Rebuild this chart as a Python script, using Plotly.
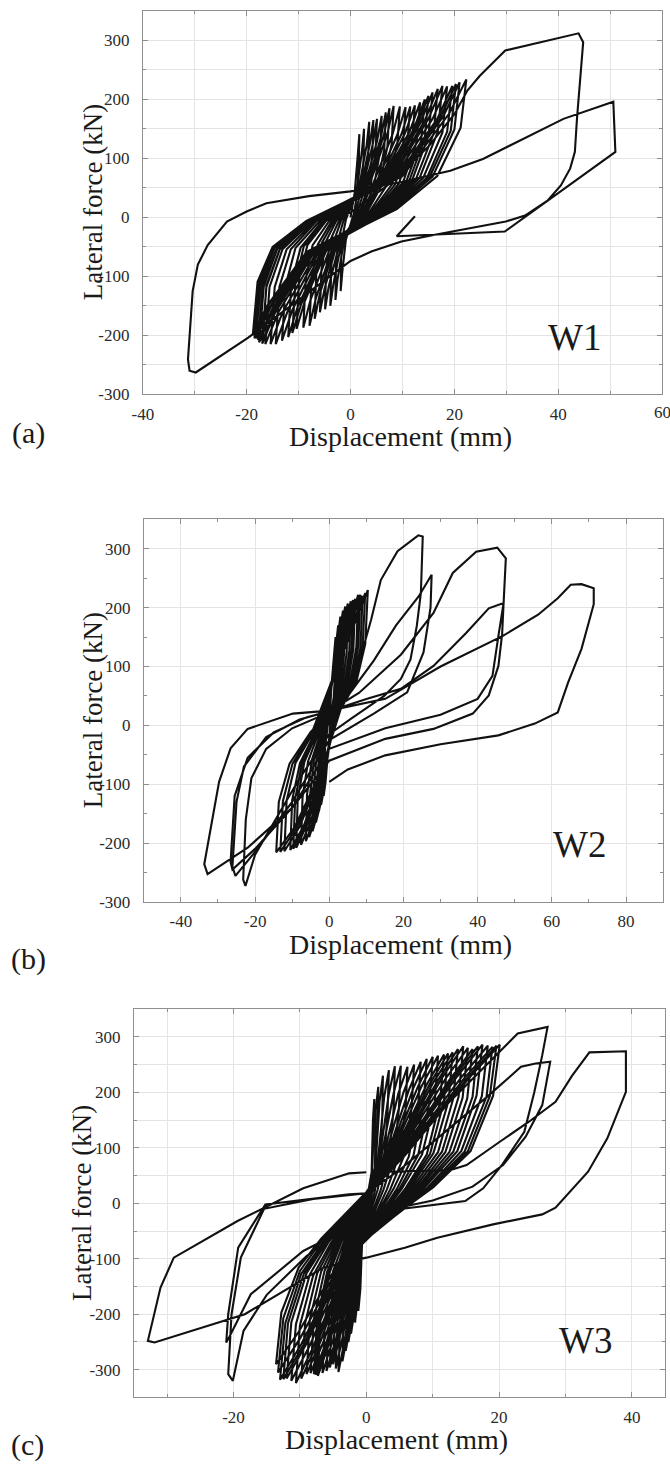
import plotly.graph_objects as go

# ---------------- data: lateral force (kN) vs displacement (mm) ----------------
# Each list is the recorded load path as (displacement, force) pairs.

w1_path = [
    (0, 0),
    (0.8, 42), (1.4, 106), (1.7, 141), (1.6, 92), (1.3, 42), (0.7, 8),
    (-0.9, -38), (-1.6, -94), (-1.9, -125), (-1.8, -69), (-1.5, -31), (-0.9, -4),
    (1.2, 45), (2.2, 113), (2.6, 150), (2.5, 98), (2.0, 45), (1.0, 9),
    (-1.3, -42), (-2.5, -105), (-2.9, -140), (-2.8, -77), (-2.3, -35), (-1.3, -4),
    (1.6, 49), (3.1, 122), (3.6, 162), (3.4, 105), (2.7, 49), (1.4, 10),
    (-1.8, -45), (-3.3, -113), (-3.9, -150), (-3.7, -83), (-3.1, -38), (-1.8, -5),
    (2.0, 50), (3.7, 124), (4.4, 165), (4.2, 107), (3.3, 50), (1.8, 10),
    (-2.2, -47), (-4.2, -117), (-4.9, -156), (-4.7, -86), (-3.9, -39), (-2.2, -5),
    (2.3, 50), (4.3, 125), (5.1, 167), (4.8, 109), (3.8, 50), (2.0, 10),
    (-2.7, -48), (-5.0, -121), (-5.9, -161), (-5.6, -89), (-4.7, -40), (-2.7, -5),
    (2.7, 52), (5.1, 129), (6.0, 172), (5.7, 112), (4.5, 52), (2.4, 10),
    (-3.1, -52), (-5.9, -129), (-6.9, -172), (-6.6, -95), (-5.5, -43), (-3.1, -5),
    (3.1, 53), (5.8, 134), (6.8, 178), (6.5, 116), (5.1, 53), (2.7, 11),
    (-3.6, -55), (-6.7, -138), (-7.9, -184), (-7.5, -101), (-6.3, -46), (-3.6, -6),
    (3.4, 56), (6.4, 139), (7.5, 185), (7.1, 120), (5.6, 56), (3.0, 11),
    (-4.1, -56), (-7.7, -140), (-9.1, -187), (-8.6, -103), (-7.3, -47), (-4.1, -6),
    (3.7, 57), (7.1, 142), (8.3, 189), (7.9, 123), (6.2, 57), (3.3, 11),
    (-4.7, -57), (-8.8, -142), (-10.4, -189), (-9.9, -104), (-8.3, -47), (-4.7, -6),
    (4.3, 56), (8.1, 141), (9.5, 188), (9.0, 122), (7.1, 56), (3.8, 11),
    (-5.0, -59), (-9.5, -147), (-11.2, -196), (-10.6, -108), (-9.0, -49), (-5.0, -6),
    (4.8, 56), (9.0, 140), (10.6, 187), (10.1, 122), (8.0, 56), (4.2, 11),
    (-5.4, -61), (-10.2, -152), (-12.0, -203), (-11.4, -112), (-9.6, -51), (-5.4, -6),
    (5.2, 56), (9.8, 141), (11.5, 188), (10.9, 122), (8.6, 56), (4.6, 11),
    (-5.9, -63), (-11.2, -157), (-13.2, -209), (-12.5, -115), (-10.6, -52), (-5.9, -6),
    (5.6, 57), (10.5, 143), (12.4, 190), (11.8, 124), (9.3, 57), (5.0, 11),
    (-6.5, -65), (-12.2, -161), (-14.4, -215), (-13.7, -118), (-11.5, -54), (-6.5, -6),
    (6.0, 59), (11.4, 146), (13.4, 195), (12.7, 127), (10.1, 59), (5.4, 12),
    (-6.9, -65), (-13.1, -161), (-15.4, -215), (-14.6, -118), (-12.3, -54), (-6.9, -6),
    (6.4, 60), (12.2, 150), (14.3, 200), (13.6, 130), (10.7, 60), (5.7, 12),
    (-7.4, -65), (-13.9, -161), (-16.4, -215), (-15.6, -118), (-13.1, -54), (-7.4, -6),
    (6.8, 62), (12.8, 155), (15.0, 206), (14.3, 134), (11.3, 62), (6.0, 12),
    (-7.7, -64), (-14.5, -161), (-17.0, -214), (-16.2, -118), (-13.6, -54), (-7.7, -6),
    (7.1, 64), (13.4, 159), (15.8, 212), (15.0, 138), (11.9, 64), (6.3, 13),
    (-7.9, -64), (-15.0, -159), (-17.6, -212), (-16.7, -117), (-14.1, -53), (-7.9, -6),
    (7.6, 65), (14.3, 164), (16.8, 218), (16.0, 142), (12.6, 65), (6.7, 13),
    (-8.2, -62), (-15.5, -154), (-18.2, -205), (-17.3, -113), (-14.6, -51), (-8.2, -6),
    (8.0, 67), (15.0, 167), (17.7, 223), (16.8, 145), (13.3, 67), (7.1, 13),
    (-8.5, -59), (-16.0, -149), (-18.8, -198), (-17.9, -109), (-15.0, -50), (-8.5, -6),
    (8.4, 67), (15.8, 167), (18.6, 222), (17.7, 144), (14.0, 67), (7.4, 13),
    (-8.4, -60), (-15.9, -150), (-18.7, -200), (-17.8, -110), (-15.0, -50), (-8.4, -6),
    (8.8, 67), (16.7, 167), (19.6, 223), (18.6, 145), (14.7, 67), (7.8, 13),
    (-8.3, -62), (-15.7, -154), (-18.5, -205), (-17.6, -113), (-14.8, -51), (-8.3, -6),
    (9.1, 68), (17.3, 170), (20.3, 226), (19.3, 147), (15.2, 68), (8.1, 14),
    (-8.0, -62), (-15.1, -156), (-17.8, -208), (-16.9, -114), (-14.2, -52), (-8.0, -6),
    (9.5, 69), (17.9, 172), (21.0, 229), (20.0, 149), (15.8, 69), (8.4, 14),
    (-7.7, -63), (-14.5, -158), (-17.0, -210), (-16.2, -116), (-13.6, -53), (-7.7, -6),
    (10.0, 70), (19.0, 176), (22.3, 234), (21.2, 152), (16.7, 70), (8.9, 14),
    (-8.2, -61), (-15.5, -152), (-18.2, -202), (-17.3, -111), (-14.6, -51), (-8.2, -6),
    (0, 8), (8, 60), (15, 120), (20, 175), (22.5, 215), (24.9, 240), (29.8, 283),
    (43.9, 312), (44.8, 297), (43.6, 167), (43.2, 111), (42.3, 83), (40.5, 54),
    (38, 29), (33.6, 3), (29.9, -7), (22.3, -19), (16, -30), (9.8, -41), (4, -58),
    (0, -74), (-19.7, -204), (-29.8, -263), (-31, -260), (-31.3, -241), (-30.4, -125),
    (-29.4, -80), (-27.5, -47), (-23.8, -7), (-20, 10), (-16.2, 24), (-8, 36), (0, 44),
    (9.8, 60), (19.2, 79), (25.5, 99), (41, 167), (49.4, 192), (50.6, 196), (51, 111),
    (29.7, -24), (8.9, -32), (12.4, 2),
]

w2_path = [
    (0, 0),
    (0.6, 68), (1.4, 128), (1.7, 150), (1.6, 90), (1.2, 48), (0.5, 18),
    (-0.2, -42), (-1.0, -96), (-1.5, -120), (-1.4, -72), (-1.1, -36), (-0.5, -6),
    (0.8, 77), (1.9, 145), (2.4, 170), (2.2, 102), (1.7, 54), (0.7, 20),
    (-0.3, -47), (-1.4, -108), (-2.2, -135), (-2.1, -81), (-1.7, -41), (-0.8, -7),
    (0.9, 83), (2.4, 157), (3.0, 185), (2.8, 111), (2.1, 59), (0.9, 22),
    (-0.4, -51), (-1.8, -117), (-2.8, -146), (-2.7, -88), (-2.1, -44), (-1.0, -7),
    (1.0, 88), (3.0, 166), (3.7, 195), (3.4, 117), (2.6, 62), (1.1, 23),
    (-0.5, -58), (-2.3, -132), (-3.6, -165), (-3.4, -99), (-2.7, -50), (-1.3, -8),
    (1.2, 91), (3.4, 172), (4.3, 202), (4.0, 121), (3.0, 65), (1.3, 24),
    (-0.7, -63), (-2.9, -144), (-4.5, -180), (-4.3, -108), (-3.4, -54), (-1.6, -9),
    (1.3, 93), (4.0, 176), (5.0, 207), (4.7, 124), (3.5, 66), (1.5, 25),
    (-0.8, -67), (-3.5, -152), (-5.4, -190), (-5.1, -114), (-4.1, -57), (-1.9, -10),
    (1.5, 95), (4.6, 179), (5.8, 211), (5.4, 127), (4.1, 68), (1.7, 25),
    (-0.9, -69), (-4.1, -158), (-6.3, -197), (-6.0, -118), (-4.7, -59), (-2.2, -10),
    (1.6, 96), (5.1, 181), (6.4, 213), (6.0, 128), (4.5, 68), (1.9, 26),
    (-1.1, -71), (-4.9, -162), (-7.6, -203), (-7.2, -122), (-5.7, -61), (-2.7, -10),
    (1.7, 97), (5.6, 183), (7.0, 215), (6.5, 129), (4.9, 69), (2.1, 26),
    (-1.3, -73), (-5.8, -166), (-8.9, -208), (-8.5, -125), (-6.7, -62), (-3.1, -10),
    (1.9, 100), (6.2, 189), (7.8, 222), (7.3, 133), (5.5, 71), (2.3, 27),
    (-1.6, -74), (-6.8, -170), (-10.5, -212), (-10.0, -127), (-7.9, -64), (-3.7, -11),
    (2.0, 100), (6.7, 189), (8.4, 222), (7.8, 133), (5.9, 71), (2.5, 27),
    (-1.5, -74), (-6.3, -168), (-9.7, -210), (-9.2, -126), (-7.3, -63), (-3.4, -11),
    (2.1, 99), (7.2, 187), (9.0, 220), (8.4, 132), (6.3, 70), (2.7, 26),
    (-1.8, -75), (-7.9, -171), (-12.1, -214), (-11.5, -128), (-9.1, -64), (-4.2, -11),
    (2.2, 101), (7.8, 191), (9.7, 225), (9.0, 135), (6.8, 72), (2.9, 27),
    (-2.0, -75), (-8.6, -172), (-13.2, -215), (-12.5, -129), (-9.9, -65), (-4.6, -11),
    (2.4, 104), (8.3, 196), (10.4, 230), (9.7, 138), (7.3, 74), (3.1, 28),
    (-2.1, -76), (-9.3, -173), (-14.3, -216), (-13.6, -130), (-10.7, -65), (-5.0, -11),
    (0, 20), (3.4, 45), (7.8, 101), (11.3, 180), (13.9, 247), (18.4, 296), (24, 323),
    (25.2, 321), (24.7, 225), (23.6, 169), (21.9, 112), (19.3, 79), (14.8, 50), (6, 12),
    (0, -15), (-8, -90), (-15, -165), (-20, -220), (-22.6, -273), (-23.2, -262),
    (-22.5, -160), (-21, -90), (-17, -40), (-10, -5), (0, 22),
    (5, 50), (12, 110), (18, 170), (24.1, 219), (27.6, 256), (27.3, 200), (25.4, 124),
    (21, 56), (12, 20), (0, -25), (-10, -130), (-20, -215), (-25.3, -256), (-26.1, -240),
    (-25, -130), (-23, -70), (-17, -20), (-8, 10), (0, 24),
    (8, 55), (19.3, 120), (28.1, 191), (33.3, 259), (39.6, 295), (45.3, 302), (47.6, 284),
    (47, 208), (45.6, 152), (44, 84), (40, 45), (30, 18), (15.1, -5), (0, -40),
    (-10, -140), (-20, -210), (-26.1, -245), (-26.6, -232), (-25.5, -120), (-22, -55),
    (-15, -12), (-6, 14), (0, 24),
    (10, 45), (19.3, 62), (28.1, 101), (36.9, 157), (43, 199), (47, 208), (46.6, 155),
    (45.6, 101), (43, 51), (38.7, 20), (28.1, -6), (15.1, -23), (0, -60),
    (-10, -140), (-22, -208), (-32.8, -253), (-33.7, -236), (-29.7, -96), (-26.6, -39),
    (-22, -6), (-9.8, 20), (0, 25),
    (15.1, 45), (30, 100), (46.8, 152), (56.3, 188), (61.6, 216), (65.1, 239), (68, 240),
    (71.3, 233), (71.3, 206), (68, 130), (64.4, 73), (61.6, 22), (55.4, 3), (45.6, -17),
    (30, -32), (15.1, -51), (5, -75), (0, -96),
]

w3_path = [
    (0, 0),
    (0.8, 56), (1.0, 150), (1.2, 188), (1.1, 128), (0.9, 62), (0.6, 19),
    (-0.6, -58), (-0.9, -155), (-1.2, -194), (-1.1, -132), (-0.9, -78), (-0.6, -43),
    (1.3, 63), (1.4, 168), (1.8, 210), (1.7, 143), (1.4, 69), (0.9, 21),
    (-0.8, -65), (-1.3, -172), (-1.7, -215), (-1.6, -146), (-1.3, -86), (-0.9, -47),
    (1.4, 69), (2.0, 184), (2.5, 230), (2.4, 156), (2.0, 76), (1.3, 23),
    (-0.8, -71), (-1.7, -188), (-2.3, -235), (-2.2, -160), (-1.7, -94), (-1.2, -52),
    (1.7, 72), (2.7, 192), (3.4, 240), (3.2, 163), (2.7, 79), (1.7, 24),
    (-1.0, -75), (-2.0, -200), (-2.7, -250), (-2.5, -170), (-2.0, -100), (-1.4, -55),
    (1.9, 74), (3.4, 198), (4.3, 247), (4.1, 168), (3.4, 82), (2.2, 25),
    (-1.1, -80), (-2.3, -213), (-3.1, -266), (-2.9, -181), (-2.3, -106), (-1.6, -59),
    (2.1, 74), (4.1, 198), (5.2, 248), (4.9, 169), (4.1, 82), (2.6, 25),
    (-1.2, -86), (-2.7, -228), (-3.6, -285), (-3.4, -194), (-2.7, -114), (-1.8, -63),
    (2.4, 74), (4.8, 197), (6.2, 246), (5.9, 167), (4.8, 81), (3.1, 25),
    (-1.3, -91), (-3.2, -243), (-4.2, -304), (-3.9, -207), (-3.2, -122), (-2.1, -67),
    (2.6, 75), (5.6, 200), (7.2, 250), (6.8, 170), (5.6, 83), (3.6, 25),
    (-1.4, -89), (-3.5, -238), (-4.6, -298), (-4.3, -203), (-3.5, -119), (-2.3, -66),
    (2.9, 77), (6.4, 204), (8.2, 255), (7.8, 173), (6.4, 84), (4.1, 26),
    (-1.5, -87), (-3.8, -232), (-5.0, -290), (-4.7, -197), (-3.8, -116), (-2.5, -64),
    (3.1, 78), (7.1, 208), (9.1, 260), (8.6, 177), (7.1, 86), (4.6, 26),
    (-1.6, -89), (-4.1, -237), (-5.5, -296), (-5.2, -201), (-4.1, -118), (-2.8, -65),
    (3.3, 79), (7.8, 211), (10, 264), (9.5, 180), (7.8, 87), (5.0, 26),
    (-1.7, -91), (-4.5, -242), (-6.0, -302), (-5.6, -205), (-4.5, -121), (-3.0, -66),
    (3.5, 80), (8.4, 213), (10.8, 266), (10.3, 181), (8.4, 88), (5.4, 27),
    (-1.8, -92), (-5.0, -245), (-6.6, -306), (-6.2, -208), (-5.0, -122), (-3.3, -67),
    (3.7, 80), (9.1, 214), (11.7, 268), (11.1, 182), (9.1, 88), (5.9, 27),
    (-2.0, -93), (-5.5, -249), (-7.3, -311), (-6.9, -211), (-5.5, -124), (-3.7, -68),
    (3.9, 81), (9.6, 216), (12.3, 270), (11.7, 184), (9.6, 89), (6.2, 27),
    (-2.0, -93), (-5.7, -247), (-7.6, -309), (-7.1, -210), (-5.7, -124), (-3.8, -68),
    (4.1, 82), (10.1, 218), (13, 272), (12.4, 185), (10.1, 90), (6.5, 27),
    (-2.1, -92), (-5.9, -246), (-7.9, -308), (-7.4, -209), (-5.9, -123), (-4.0, -68),
    (4.3, 83), (10.8, 222), (13.8, 278), (13.1, 189), (10.8, 92), (6.9, 28),
    (-2.2, -92), (-6.3, -245), (-8.4, -306), (-7.9, -208), (-6.3, -122), (-4.2, -67),
    (4.5, 85), (11.4, 226), (14.6, 283), (13.9, 192), (11.4, 93), (7.3, 28),
    (-2.3, -92), (-6.8, -246), (-9.0, -308), (-8.5, -209), (-6.8, -123), (-4.5, -68),
    (4.6, 84), (11.9, 224), (15.3, 280), (14.5, 190), (11.9, 92), (7.7, 28),
    (-2.5, -95), (-7.4, -253), (-9.8, -316), (-9.2, -215), (-7.4, -126), (-4.9, -70),
    (4.8, 83), (12.5, 222), (16, 278), (15.2, 189), (12.5, 92), (8.0, 28),
    (-2.6, -97), (-8.0, -259), (-10.6, -324), (-10.0, -220), (-8.0, -130), (-5.3, -71),
    (5.0, 85), (13.1, 226), (16.8, 283), (16.0, 192), (13.1, 93), (8.4, 28),
    (-2.8, -96), (-8.5, -256), (-11.3, -320), (-10.6, -218), (-8.5, -128), (-5.7, -70),
    (5.2, 86), (13.7, 229), (17.5, 286), (16.6, 194), (13.7, 94), (8.8, 29),
    (-2.9, -95), (-9.0, -253), (-12, -316), (-11.3, -215), (-9.0, -126), (-6.0, -70),
    (5.4, 85), (14.3, 227), (18.3, 284), (17.4, 193), (14.3, 94), (9.2, 28),
    (-3.0, -95), (-9.4, -254), (-12.5, -317), (-11.8, -216), (-9.4, -127), (-6.3, -70),
    (5.6, 85), (14.8, 226), (19, 282), (18.1, 192), (14.8, 93), (9.5, 28),
    (-3.1, -95), (-9.8, -254), (-13, -318), (-12.2, -216), (-9.8, -127), (-6.5, -70),
    (5.7, 85), (15.3, 227), (19.6, 284), (18.6, 193), (15.3, 94), (9.8, 28),
    (-3.2, -92), (-10.0, -244), (-13.3, -305), (-12.5, -207), (-10.0, -122), (-6.7, -67),
    (5.8, 86), (15.7, 229), (20.1, 286), (19.1, 194), (15.7, 94), (10.1, 29),
    (-3.2, -87), (-10.2, -232), (-13.6, -290), (-12.8, -197), (-10.2, -116), (-6.8, -64),
    (0, 20), (3, 70), (8, 130), (14, 200), (19, 260), (22.8, 306), (27.3, 318),
    (26.5, 267), (25.3, 200), (23.8, 129), (20.5, 70), (17.6, 27), (14.9, 4), (4.3, -11),
    (0, -18), (-3, -45), (-9, -95), (-15, -165), (-18.5, -230), (-20.1, -320),
    (-20.8, -308), (-20.3, -200), (-18.9, -98), (-15.4, -10), (-8, 8), (0, 18),
    (5, 60), (12, 130), (18, 190), (23.3, 246), (25.5, 252), (27.7, 255), (26.5, 177),
    (24, 120), (20.6, 69), (16, 30), (10, 5), (0, -20), (-1.6, -32), (-4.6, -56),
    (-9.5, -86), (-17.4, -164), (-20.6, -240), (-21.1, -251), (-20.8, -200),
    (-19.3, -80), (-15.2, -2), (-2.6, 16), (0, 18),
    (3, 57), (12.7, 60), (15.1, 69), (20, 110), (24.5, 147), (28.5, 183), (31, 230),
    (33.6, 272), (39.1, 274), (39.1, 201), (36.3, 117), (33.4, 57), (28.5, -8),
    (26.5, -20), (19.1, -38), (10.7, -62), (5.8, -80), (0, -98), (-6.5, -116),
    (-18.3, -200), (-31.9, -251), (-32.9, -248), (-31, -152), (-29, -98),
    (-19.4, -32), (-9.5, 27), (-2.6, 54), (0, 56),
]

specimen_names = ["W1", "W2", "W3"]
panel_tags = ["(a)", "(b)", "(c)"]
x_ranges = [[-40, 60], [-50, 90], [-35, 45]]
y_ranges = [[-300, 350], [-300, 350], [-350, 350]]
x_tick_values = [
    [-40, -20, 0, 20, 40, 60],
    [-40, -20, 0, 20, 40, 60, 80],
    [-20, 0, 20, 40],
]
y_tick_values = [
    [-300, -200, -100, 0, 100, 200, 300],
    [-300, -200, -100, 0, 100, 200, 300],
    [-300, -200, -100, 0, 100, 200, 300],
]
x_minor_grid = [10, None, 10]
y_minor_grid = [50, None, 50]
name_positions = [(43.2, -204), (67.5, -202), (33.0, -248)]

# ---------------- layout geometry (pixels in a 670 x 1474 page) ----------------
W, H = 670, 1474
frames = [  # left, right, top, bottom
    (134, 662, 11, 397),
    (135, 663, 523, 908),
    (125, 665, 1016, 1407),
]
xtick_label_y = [415, 926, 1425]
xtitle_x = [396, 396, 392]
xtitle_y = [439, 951, 1449]
ytitle_x = [83, 83, 72]
tag_pos = [(18, 436), (18, 966), (17, 1455)]

SERIF = 'Liberation Serif, "Times New Roman", Times, serif'
FRAME = "#8f8f8f"
GRID = "#e4e4e4"
INK = "#111111"
TICK_FONT = dict(family=SERIF, size=17, color="#2a2a2a")

fig = go.Figure()
paths = [w1_path, w2_path, w3_path]

for i, path in enumerate(paths):
    disp = [p[0] for p in path]
    force = [p[1] for p in path]
    suffix = "" if i == 0 else str(i + 1)
    fig.add_trace(go.Scatter(
        x=disp, y=force, mode="lines",
        line=dict(color=INK, width=2.1),
        xaxis="x" + suffix, yaxis="y" + suffix,
        showlegend=False, hoverinfo="skip",
    ))

layout = dict(
    width=W, height=H,
    margin=dict(l=0, r=0, t=0, b=0),
    paper_bgcolor="white", plot_bgcolor="white",
    showlegend=False,
)


def minor_cfg(step, fallback):
    cfg = dict(ticks="inside", ticklen=3, tickcolor=FRAME, tick0=0)
    if step:
        cfg.update(dtick=step, showgrid=True, gridcolor=GRID, gridwidth=1)
    else:
        cfg.update(dtick=fallback, showgrid=False)
    return cfg


annotations = []
for i in range(3):
    l, r, t, b = frames[i]
    suffix = "" if i == 0 else str(i + 1)
    xdom = [l / W, r / W]
    ydom = [1 - b / H, 1 - t / H]

    # tick labels that sit at the very edge of the page are written as
    # annotations so they are kept (and clipped by the page like a label would)
    x_labelled = [v for v in x_tick_values[i] if v < x_ranges[i][1]]
    x_edge = [v for v in x_tick_values[i] if v >= x_ranges[i][1]]

    common = dict(
        showline=True, linecolor=FRAME, linewidth=1, mirror="ticks",
        ticks="inside", ticklen=5, tickcolor=FRAME,
        tickfont=TICK_FONT,
        showgrid=True, gridcolor=GRID, gridwidth=1, zeroline=False,
        tickmode="array",
    )
    layout["xaxis" + suffix] = dict(
        common, domain=xdom, range=x_ranges[i], anchor="y" + suffix,
        tickvals=x_labelled, ticktext=[str(v) for v in x_labelled],
        ticklabelstandoff=4,
        minor=minor_cfg(x_minor_grid[i], 10),
    )
    layout["yaxis" + suffix] = dict(
        common, domain=ydom, range=y_ranges[i], anchor="x" + suffix,
        tickvals=y_tick_values[i], ticktext=[str(v) for v in y_tick_values[i]],
        ticklabelstandoff=9,
        minor=minor_cfg(y_minor_grid[i], 50),
    )
    for v in x_edge:
        annotations.append(dict(
            text=str(v), xref="x" + suffix, yref="paper",
            x=v, y=1 - xtick_label_y[i] / H, xanchor="center", yanchor="middle",
            showarrow=False, font=TICK_FONT,
        ))

    # axis titles
    annotations.append(dict(
        text="Displacement (mm)", xref="paper", yref="paper",
        x=xtitle_x[i] / W, y=1 - xtitle_y[i] / H, xanchor="center", yanchor="middle",
        showarrow=False, font=dict(family=SERIF, size=28, color="#1a1a1a"),
    ))
    annotations.append(dict(
        text="Lateral force (kN)", xref="paper", yref="paper", textangle=-90,
        x=ytitle_x[i] / W, y=1 - (t + b) / 2 / H, xanchor="center", yanchor="middle",
        showarrow=False, font=dict(family=SERIF, size=27, color="#1a1a1a"),
    ))
    # panel tag
    annotations.append(dict(
        text=panel_tags[i], xref="paper", yref="paper",
        x=tag_pos[i][0] / W, y=1 - tag_pos[i][1] / H, xanchor="center", yanchor="middle",
        showarrow=False, font=dict(family=SERIF, size=30, color="#1a1a1a"),
    ))
    # specimen name inside the frame
    annotations.append(dict(
        text=specimen_names[i], xref="x" + suffix, yref="y" + suffix,
        x=name_positions[i][0], y=name_positions[i][1], xanchor="center", yanchor="middle",
        showarrow=False, font=dict(family=SERIF, size=37, color="#1a1a1a"),
    ))

layout["annotations"] = annotations
fig.update_layout(**layout)
fig.write_html("out.html")
